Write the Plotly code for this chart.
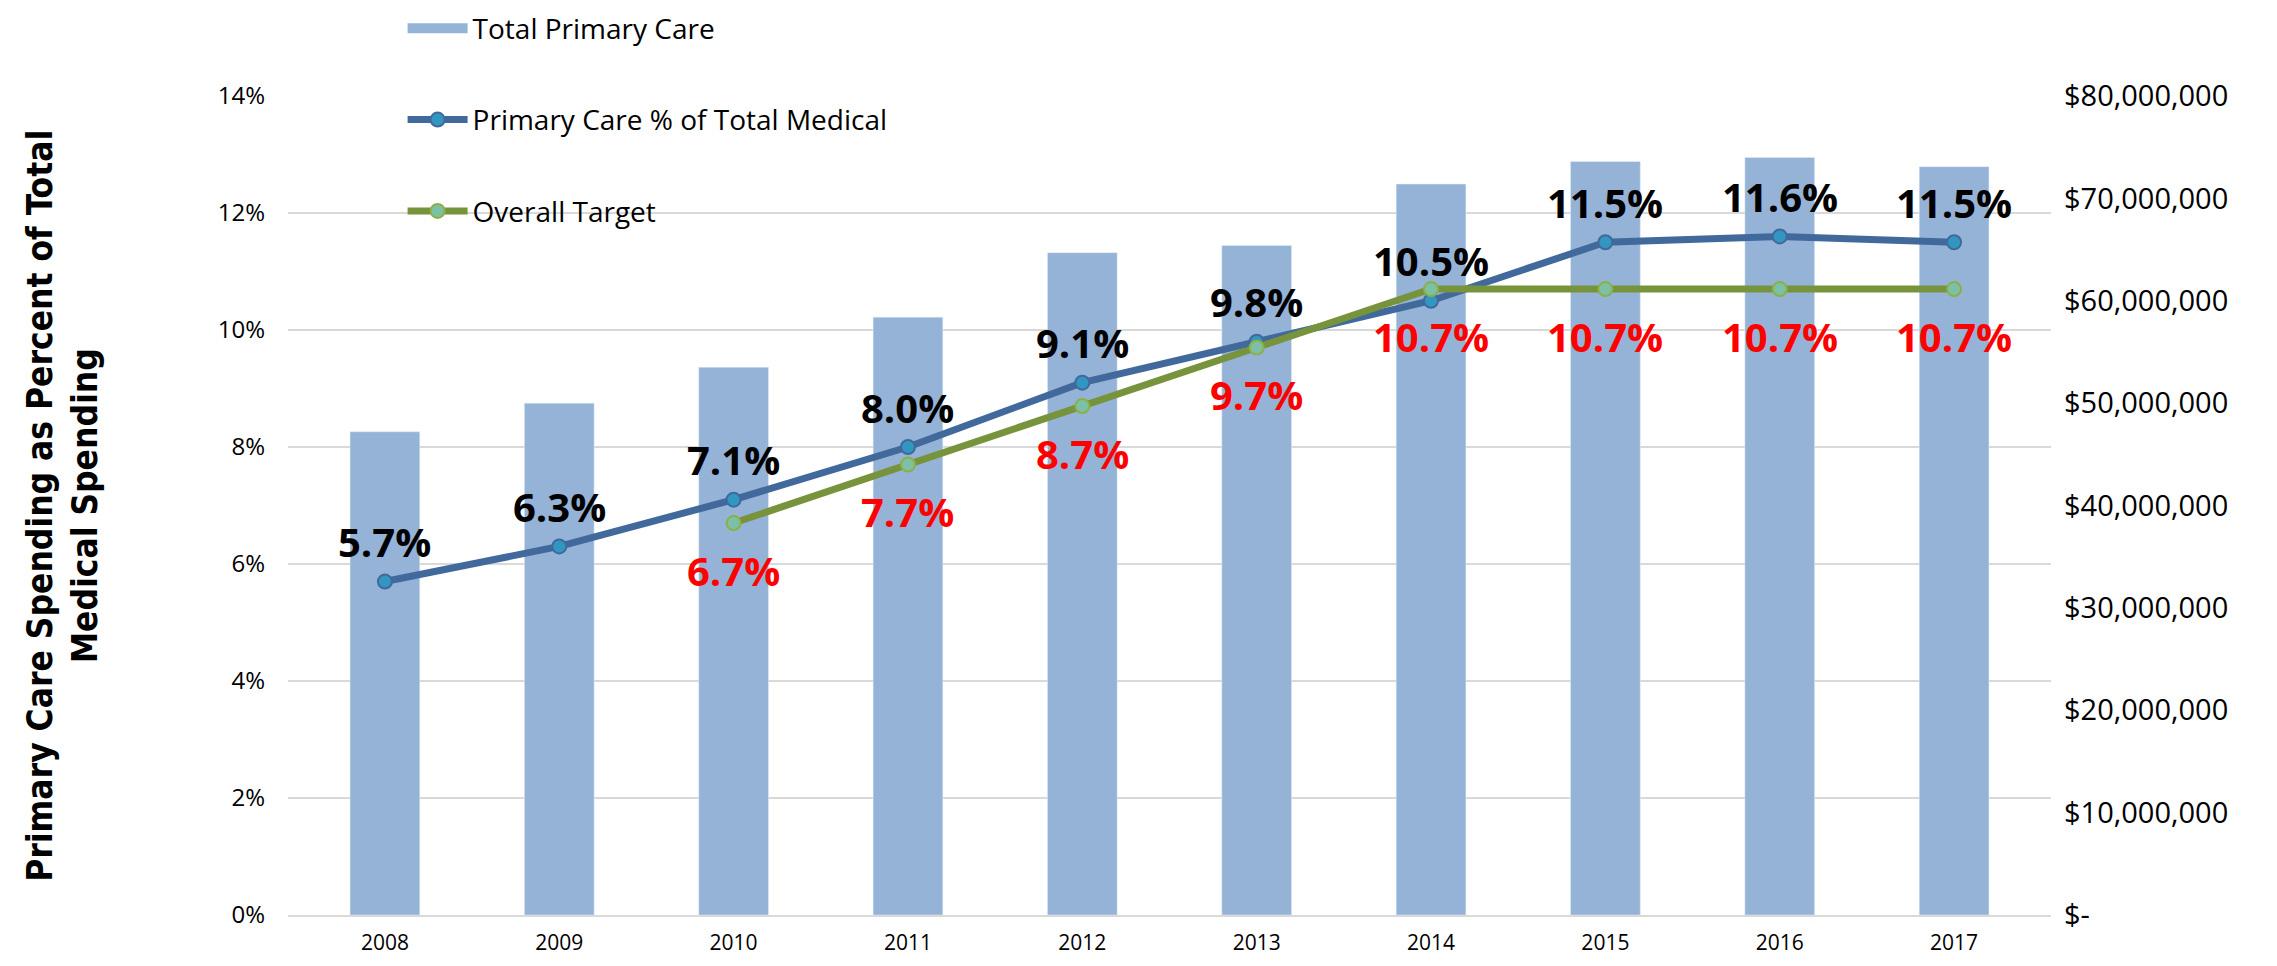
import plotly.graph_objects as go

# chart data
years = ['2008', '2009', '2010', '2011', '2012', '2013', '2014', '2015', '2016', '2017']
total_primary_care = [47.2e6, 50.0e6, 53.5e6, 58.4e6, 64.7e6, 65.4e6, 71.4e6, 73.6e6, 74.0e6, 73.1e6]
pc_pct_of_total = [5.7, 6.3, 7.1, 8.0, 9.1, 9.8, 10.5, 11.5, 11.6, 11.5]
overall_target = [None, None, 6.7, 7.7, 8.7, 9.7, 10.7, 10.7, 10.7, 10.7]

pct_ticks = [0, 2, 4, 6, 8, 10, 12, 14]
dollar_ticks = [0, 10e6, 20e6, 30e6, 40e6, 50e6, 60e6, 70e6, 80e6]
dollar_labels = ['$-', '$10,000,000', '$20,000,000', '$30,000,000', '$40,000,000',
                 '$50,000,000', '$60,000,000', '$70,000,000', '$80,000,000']

BAR = '#95B3D7'
BLUE = '#41699C'
GREEN = '#77933C'
GRID = '#D9D9D9'
FONT = 'Open Sans, DejaVu Sans, sans-serif'

fig = go.Figure()

# bars on the primary axis (shown on the right) so the lines draw on top
fig.add_trace(go.Bar(x=years, y=total_primary_care, marker_color=BAR, width=0.40,
                     showlegend=False, hoverinfo='skip', yaxis='y'))
# legend stand-in for the bars (wide block like the original)
fig.add_trace(go.Scatter(x=[None], y=[None], mode='lines', name='Total Primary Care',
                         line=dict(color=BAR, width=19), legendgroup='a', yaxis='y'))

fig.add_trace(go.Scatter(
    x=years, y=pc_pct_of_total, name='Primary Care % of Total Medical',
    mode='lines+markers', yaxis='y2', legendgroup='b',
    line=dict(color=BLUE, width=7),
    marker=dict(size=14, color='#3196C0', line=dict(color=BLUE, width=2)),
    hoverinfo='skip'))

fig.add_trace(go.Scatter(
    x=years, y=overall_target, name='Overall Target',
    mode='lines+markers', yaxis='y2', legendgroup='c',
    line=dict(color=GREEN, width=7),
    marker=dict(size=14, color='#7CC0A8', line=dict(color='#8DB043', width=2)),
    hoverinfo='skip'))

# data labels: actual above the points, target below
# (x given as the category index so '2008' is not read as a number)
labels = []
for i, v in enumerate(pc_pct_of_total):
    labels.append(dict(x=i, y=v, xref='x', yref='y2', text=f'{v:.1f}%', showarrow=False,
                       yshift=40, font=dict(family=FONT, size=40, color='black', weight='bold')))
for i, v in enumerate(overall_target):
    if v is None:
        continue
    labels.append(dict(x=i, y=v, xref='x', yref='y2', text=f'{v:.1f}%', showarrow=False,
                       yshift=-47, font=dict(family=FONT, size=40, color='#FF0000', weight='bold')))

labels.append(dict(
    text='Primary Care Spending as Percent of Total<br>Medical Spending',
    xref='paper', yref='paper', x=-0.128, y=0.5, xanchor='center', yanchor='middle',
    textangle=-90, showarrow=False,
    font=dict(family='Liberation Sans Narrow, DejaVu Sans Condensed, sans-serif',
              size=35, color='black', weight='bold')))

# page body adds an 8px margin, so the figure is sized to fit inside it
fig.update_layout(
    width=2261, height=950,
    margin=dict(l=280, r=218, t=88, b=43, autoexpand=False),
    plot_bgcolor='white', paper_bgcolor='white',
    font=dict(family=FONT, color='black'),
    xaxis=dict(type='category', showgrid=False, showline=True, linecolor=GRID, linewidth=2,
               ticks='', tickfont=dict(size=21), ticklabelstandoff=8, automargin=False),
    yaxis=dict(side='right', range=[0, 80e6], tickvals=dollar_ticks, ticktext=dollar_labels,
               showgrid=False, zeroline=False, ticks='', tickfont=dict(size=29),
               ticklabelstandoff=12, automargin=False),
    yaxis2=dict(overlaying='y', side='left', range=[0, 14], tickvals=pct_ticks,
                ticktext=[f'{t}%' for t in pct_ticks], showgrid=True, gridcolor=GRID,
                gridwidth=2, zeroline=False, ticks='', tickfont=dict(size=24),
                ticklabelstandoff=22, automargin=False),
    legend=dict(x=0.065, y=1.113, xanchor='left', yanchor='top', bgcolor='rgba(0,0,0,0)',
                font=dict(size=28), itemwidth=60, tracegroupgap=52, traceorder='grouped'),
    annotations=labels,
)

fig.write_html('out.html')
